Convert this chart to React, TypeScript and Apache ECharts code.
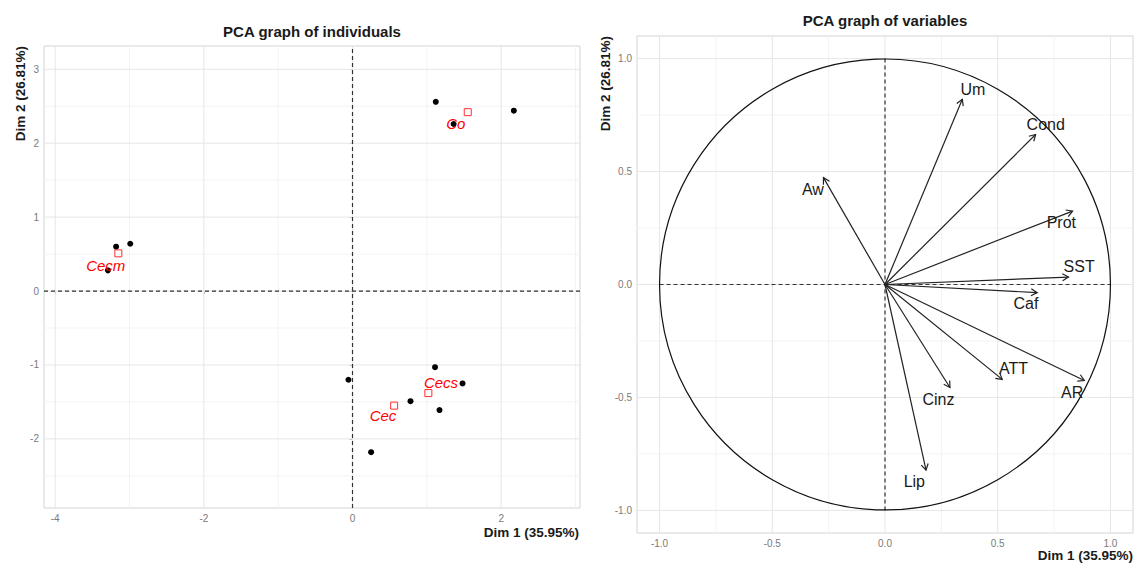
import React, { useEffect, useRef } from "react";
import * as echarts from "echarts";

// ---------- Data ----------
// Individuals (Dim1, Dim2)
const indX = [1.12, 1.36, 2.17, -3.18, -2.99, -3.29, -0.055, 1.11, 1.48, 0.78, 1.17, 0.25];
const indY = [2.56, 2.26, 2.44, 0.6, 0.64, 0.28, -1.2, -1.03, -1.25, -1.49, -1.61, -2.18];

// Supplementary qualitative categories (centroids + label positions)
const groupNames = ["Co", "Cecm", "Cecs", "Cec"];
const groupX = [1.55, -3.15, 1.02, 0.56];
const groupY = [2.42, 0.51, -1.38, -1.55];
const groupLabelX = [1.39, -3.32, 1.19, 0.41];
const groupLabelY = [2.27, 0.35, -1.24, -1.69];

// Variables (arrow tips + label positions)
const varNames = ["Um", "Cond", "Aw", "Prot", "SST", "Caf", "ATT", "AR", "Cinz", "Lip"];
const varX = [0.343, 0.668, -0.273, 0.832, 0.814, 0.675, 0.52, 0.884, 0.288, 0.182];
const varY = [0.82, 0.664, 0.473, 0.325, 0.033, -0.036, -0.42, -0.425, -0.456, -0.822];
const varLabelX = [0.39, 0.713, -0.32, 0.782, 0.861, 0.625, 0.57, 0.83, 0.237, 0.13];
const varLabelY = [0.864, 0.709, 0.42, 0.274, 0.08, -0.085, -0.372, -0.48, -0.508, -0.873];

// Axis ranges and ticks
const indXRange = [-4.15, 3.06];
const indYRange = [-2.935, 3.315];
const indXTicks = [-4, -2, 0, 2];
const indXMinor = [-3, -1, 1, 3];
const indYTicks = [-2, -1, 0, 1, 2, 3];
const indYMinor = [-2.5, -1.5, -0.5, 0.5, 1.5, 2.5];

const varRange = [-1.1, 1.1];
const varTicks = [-1, -0.5, 0, 0.5, 1];
const varMinor = [-0.75, -0.25, 0.25, 0.75];

const FONT = "'Liberation Sans', Arial, Helvetica, sans-serif";

function gridLineSeries(
  axisIdx: number,
  vertical: number[],
  horizontal: number[],
  xr: number[],
  yr: number[],
  color: string,
  width: number,
  z: number
) {
  const data: number[][] = [];
  vertical.forEach((v) => data.push([0, v]));
  horizontal.forEach((v) => data.push([1, v]));
  return {
    type: "custom",
    xAxisIndex: axisIdx,
    yAxisIndex: axisIdx,
    silent: true,
    z,
    clip: false,
    data,
    encode: { x: -1, y: -1 },
    renderItem: (params: any, api: any) => {
      const item = data[params.dataIndex];
      const v = item[1];
      let p1, p2;
      if (item[0] === 0) {
        p1 = api.coord([v, yr[0]]);
        p2 = api.coord([v, yr[1]]);
      } else {
        p1 = api.coord([xr[0], v]);
        p2 = api.coord([xr[1], v]);
      }
      return {
        type: "line",
        shape: { x1: p1[0], y1: p1[1], x2: p2[0], y2: p2[1] },
        style: { stroke: color, lineWidth: width },
      };
    },
  };
}

function dashedZero(axisIdx: number, xr: number[], yr: number[]) {
  const data = [[0, 0]];
  return {
    type: "custom",
    xAxisIndex: axisIdx,
    yAxisIndex: axisIdx,
    silent: true,
    z: 3,
    data,
    renderItem: (_p: any, api: any) => {
      const a = api.coord([xr[0], 0]);
      const b = api.coord([xr[1], 0]);
      const c = api.coord([0, yr[0]]);
      const d = api.coord([0, yr[1]]);
      const st = { stroke: "#333", lineWidth: 1.2, lineDash: [4, 3] };
      return {
        type: "group",
        children: [
          { type: "line", shape: { x1: a[0], y1: a[1], x2: b[0], y2: b[1] }, style: st },
          { type: "line", shape: { x1: c[0], y1: c[1], x2: d[0], y2: d[1] }, style: st },
        ],
      };
    },
  };
}

function textSeries(
  axisIdx: number,
  xs: number[],
  ys: number[],
  names: string[],
  color: string,
  italic: boolean,
  size: number
) {
  return {
    type: "custom",
    xAxisIndex: axisIdx,
    yAxisIndex: axisIdx,
    silent: true,
    z: 6,
    data: xs.map((x, i) => [x, ys[i]]),
    renderItem: (params: any, api: any) => {
      const p = api.coord([api.value(0), api.value(1)]);
      return {
        type: "text",
        x: p[0],
        y: p[1],
        style: {
          text: names[params.dataIndex],
          fill: color,
          font: `${italic ? "italic " : ""}${size}px ${FONT}`,
          textAlign: "center",
          textVerticalAlign: "middle",
        },
      };
    },
  };
}

const axisCommon = {
  axisLine: { show: false },
  splitLine: { show: false },
  axisTick: { show: true, length: 3, lineStyle: { color: "#b0b0b0", width: 1 } },
};

export default function App() {
  const ref = useRef<HTMLDivElement>(null);

  useEffect(() => {
    if (!ref.current) return;
    const chart = echarts.init(ref.current, undefined, { renderer: "svg" });

    const labelStyle = { color: "#7a7a7a", fontSize: 10, fontFamily: FONT };
    const nameFont = `bold 13.5px ${FONT}`;
    const titleFont = `bold 15px ${FONT}`;

    const option: any = {
      animation: false,
      backgroundColor: "#ffffff",
      grid: [
        {
          left: 44,
          top: 46,
          width: 536,
          height: 462,
          show: true,
          borderColor: "#d4d4d4",
          borderWidth: 1,
          backgroundColor: "transparent",
        },
        {
          left: 637,
          top: 36,
          width: 496,
          height: 497,
          show: true,
          borderColor: "#d4d4d4",
          borderWidth: 1,
          backgroundColor: "transparent",
        },
      ],
      xAxis: [
        {
          type: "value",
          gridIndex: 0,
          min: indXRange[0],
          max: indXRange[1],
          ...axisCommon,
          axisTick: { ...axisCommon.axisTick, customValues: indXTicks },
          axisLabel: { ...labelStyle, margin: 5, customValues: indXTicks, formatter: (v: number) => String(v) },
        },
        {
          type: "value",
          gridIndex: 1,
          min: varRange[0],
          max: varRange[1],
          ...axisCommon,
          axisTick: { ...axisCommon.axisTick, customValues: varTicks },
          axisLabel: { ...labelStyle, margin: 5, customValues: varTicks, formatter: (v: number) => v.toFixed(1) },
        },
      ],
      yAxis: [
        {
          type: "value",
          gridIndex: 0,
          min: indYRange[0],
          max: indYRange[1],
          ...axisCommon,
          axisTick: { ...axisCommon.axisTick, customValues: indYTicks },
          axisLabel: { ...labelStyle, margin: 5, customValues: indYTicks, formatter: (v: number) => String(v) },
        },
        {
          type: "value",
          gridIndex: 1,
          min: varRange[0],
          max: varRange[1],
          ...axisCommon,
          axisTick: { ...axisCommon.axisTick, customValues: varTicks },
          axisLabel: { ...labelStyle, margin: 5, customValues: varTicks, formatter: (v: number) => v.toFixed(1) },
        },
      ],
      graphic: [
        {
          type: "text",
          x: 312,
          y: 31,
          style: {
            text: "PCA graph of individuals",
            font: titleFont,
            fill: "#1a1a1a",
            textAlign: "center",
            textVerticalAlign: "middle",
          },
        },
        {
          type: "text",
          x: 885,
          y: 20,
          style: {
            text: "PCA graph of variables",
            font: titleFont,
            fill: "#1a1a1a",
            textAlign: "center",
            textVerticalAlign: "middle",
          },
        },
        {
          type: "text",
          x: 579,
          y: 532,
          style: {
            text: "Dim 1 (35.95%)",
            font: nameFont,
            fill: "#1a1a1a",
            textAlign: "right",
            textVerticalAlign: "middle",
          },
        },
        {
          type: "text",
          x: 1133,
          y: 555,
          style: {
            text: "Dim 1 (35.95%)",
            font: nameFont,
            fill: "#1a1a1a",
            textAlign: "right",
            textVerticalAlign: "middle",
          },
        },
        {
          type: "text",
          x: 20,
          y: 46,
          rotation: Math.PI / 2,
          style: {
            text: "Dim 2 (26.81%)",
            font: nameFont,
            fill: "#1a1a1a",
            textAlign: "right",
            textVerticalAlign: "middle",
          },
        },
        {
          type: "text",
          x: 605,
          y: 36,
          rotation: Math.PI / 2,
          style: {
            text: "Dim 2 (26.81%)",
            font: nameFont,
            fill: "#1a1a1a",
            textAlign: "right",
            textVerticalAlign: "middle",
          },
        },
      ],
      series: [
        // Left panel grid lines
        gridLineSeries(0, indXMinor, indYMinor, indXRange, indYRange, "#f3f3f3", 1, 1),
        gridLineSeries(0, indXTicks, indYTicks, indXRange, indYRange, "#e6e6e6", 1, 2),
        dashedZero(0, indXRange, indYRange),
        {
          type: "scatter",
          xAxisIndex: 0,
          yAxisIndex: 0,
          z: 5,
          symbol: "circle",
          symbolSize: 6,
          itemStyle: { color: "#000", opacity: 1 },
          data: indX.map((x, i) => [x, indY[i]]),
        },
        {
          type: "scatter",
          xAxisIndex: 0,
          yAxisIndex: 0,
          z: 5,
          symbol: "rect",
          symbolSize: 7,
          itemStyle: { color: "transparent", borderColor: "#ff3030", borderWidth: 1, opacity: 1 },
          data: groupX.map((x, i) => [x, groupY[i]]),
        },
        textSeries(0, groupLabelX, groupLabelY, groupNames, "#ff0000", true, 15),

        // Right panel
        gridLineSeries(1, varMinor, varMinor, varRange, varRange, "#f3f3f3", 1, 1),
        gridLineSeries(1, varTicks, varTicks, varRange, varRange, "#e6e6e6", 1, 2),
        dashedZero(1, [-1, 1], [-1, 1]),
        {
          type: "custom",
          xAxisIndex: 1,
          yAxisIndex: 1,
          silent: true,
          z: 4,
          data: [[0, 0]],
          renderItem: (_p: any, api: any) => {
            const c = api.coord([0, 0]);
            const e = api.coord([1, 0]);
            const r = Math.abs(e[0] - c[0]);
            return {
              type: "circle",
              shape: { cx: c[0], cy: c[1], r },
              style: { fill: "none", stroke: "#111", lineWidth: 1.2 },
            };
          },
        },
        {
          type: "custom",
          xAxisIndex: 1,
          yAxisIndex: 1,
          silent: true,
          z: 5,
          data: varX.map((x, i) => [x, varY[i]]),
          renderItem: (_p: any, api: any) => {
            const o = api.coord([0, 0]);
            const t = api.coord([api.value(0), api.value(1)]);
            const a = Math.atan2(t[1] - o[1], t[0] - o[0]);
            const L = 7;
            const w = Math.PI / 6;
            const p1 = [t[0] - L * Math.cos(a - w), t[1] - L * Math.sin(a - w)];
            const p2 = [t[0] - L * Math.cos(a + w), t[1] - L * Math.sin(a + w)];
            return {
              type: "group",
              children: [
                {
                  type: "line",
                  shape: { x1: o[0], y1: o[1], x2: t[0], y2: t[1] },
                  style: { stroke: "#222", lineWidth: 1.2 },
                },
                {
                  type: "polyline",
                  shape: { points: [p1, t, p2] },
                  style: { stroke: "#222", fill: "none", lineWidth: 1.2 },
                },
              ],
            };
          },
        },
        textSeries(1, varLabelX, varLabelY, varNames, "#1a1a1a", false, 16),
      ],
    };

    chart.setOption(option);
    return () => chart.dispose();
  }, []);

  return (
    <div
      ref={ref}
      style={{ position: "absolute", left: 0, top: 0, width: 1135, height: 563 }}
    />
  );
}
